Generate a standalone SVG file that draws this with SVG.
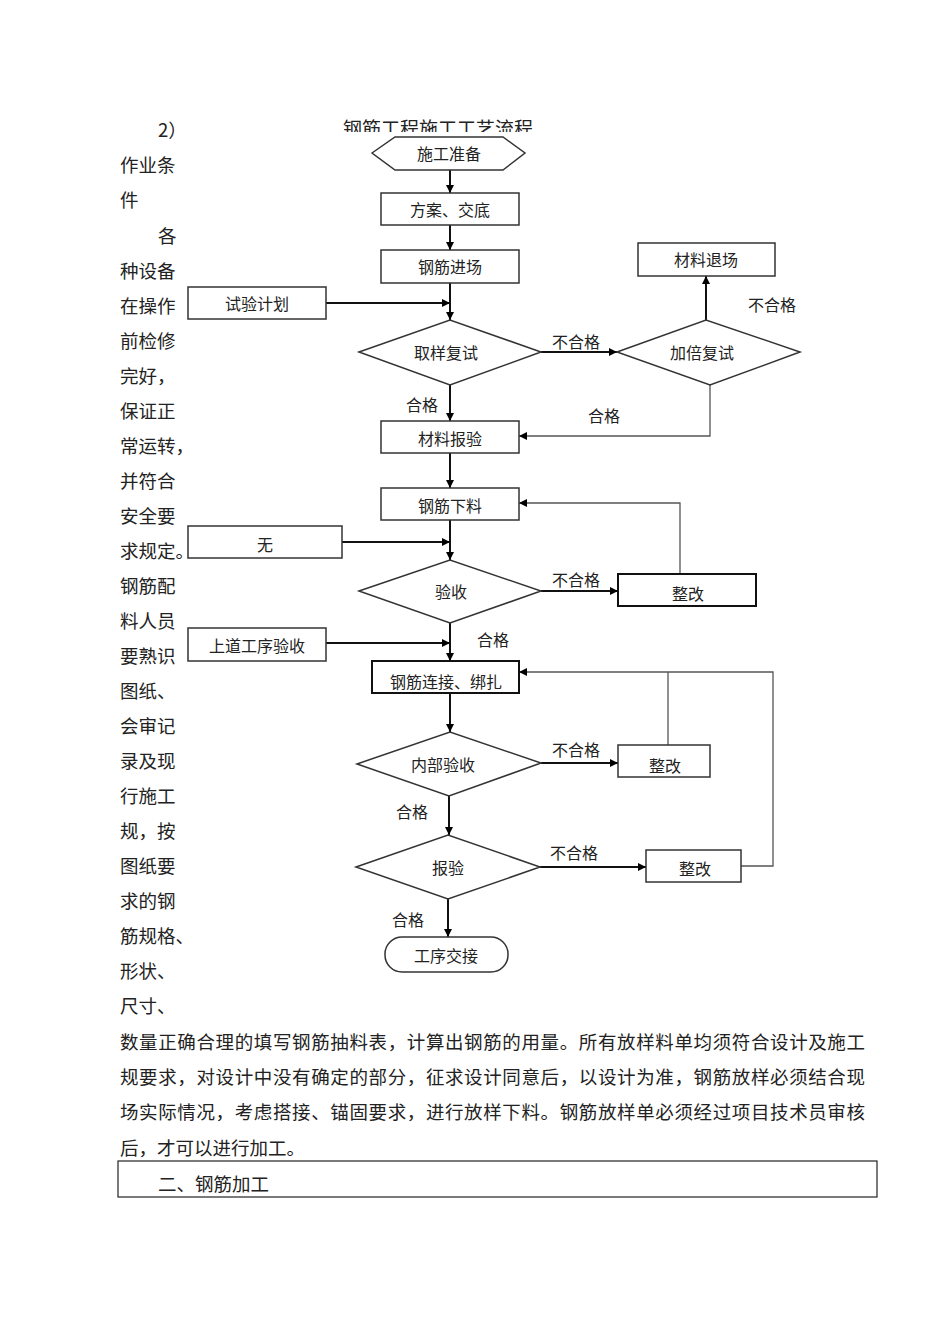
<svg xmlns="http://www.w3.org/2000/svg" width="950" height="1344" viewBox="0 0 950 1344">
<defs>
<marker id="ah" viewBox="0 0 10 10" refX="10" refY="5" markerWidth="5" markerHeight="5" markerUnits="userSpaceOnUse" orient="auto">
<path d="M0,0 L10,5 L0,10 z" fill="#000"/>
</marker>
<marker id="ah2" viewBox="0 0 10 10" refX="10" refY="5" markerWidth="10" markerHeight="8" markerUnits="userSpaceOnUse" orient="auto">
<path d="M0,0 L10,5 L0,10 z" fill="#000"/>
</marker>
<clipPath id="tclip"><rect x="300" y="100" width="300" height="32"/></clipPath>
</defs>
<style>
text{font-family:"Noto Sans CJK SC","Liberation Serif",serif;fill:#222;}
.n{font-size:16px;text-anchor:middle;dominant-baseline:central;}
.l{font-size:16px;}
.p{font-size:18.5px;}
.shape{fill:#fff;stroke:#333;stroke-width:1.5;}
.thick{stroke-width:2;stroke:#111;}
.c{fill:none;stroke:#111;stroke-width:2;}
.f{fill:none;stroke:#555;stroke-width:1.3;}
</style>
<rect width="950" height="1344" fill="#fff"/>

<text x="343" y="136" style="font-size:19px" clip-path="url(#tclip)">钢筋工程施工工艺流程</text>

<g id="connectors">
<line class="c" x1="450" y1="170" x2="450" y2="193" marker-end="url(#ah2)"/>
<line class="c" x1="450" y1="225" x2="450" y2="250" marker-end="url(#ah2)"/>
<line class="c" x1="450" y1="283" x2="450" y2="320" marker-end="url(#ah2)"/>
<line class="c" x1="326" y1="303" x2="450" y2="303" marker-end="url(#ah2)"/>
<line class="c" x1="541" y1="352" x2="617" y2="352" marker-end="url(#ah2)"/>
<line class="c" x1="706" y1="320" x2="706" y2="276" marker-end="url(#ah2)"/>
<polyline class="f" points="710,385 710,436 519,436" marker-end="url(#ah2)"/>
<line class="c" x1="450" y1="385" x2="450" y2="421" marker-end="url(#ah2)"/>
<line class="c" x1="450" y1="453" x2="450" y2="488" marker-end="url(#ah2)"/>
<polyline class="f" points="680,574 680,503 519,503" marker-end="url(#ah2)"/>
<line class="c" x1="450" y1="520" x2="450" y2="560" marker-end="url(#ah2)"/>
<line class="c" x1="342" y1="542" x2="450" y2="542" marker-end="url(#ah2)"/>
<line class="c" x1="541" y1="591" x2="618" y2="591" marker-end="url(#ah2)"/>
<line class="c" x1="450" y1="623" x2="450" y2="661" marker-end="url(#ah2)"/>
<line class="c" x1="326" y1="643" x2="450" y2="643" marker-end="url(#ah2)"/>
<line class="f" x1="668" y1="745" x2="668" y2="672"/>
<polyline class="f" points="741,866 773,866 773,672 519,672" marker-end="url(#ah2)"/>
<line class="c" x1="450" y1="693" x2="450" y2="732" marker-end="url(#ah2)"/>
<line class="c" x1="541" y1="763" x2="618" y2="763" marker-end="url(#ah2)"/>
<line class="c" x1="449" y1="796" x2="449" y2="835" marker-end="url(#ah2)"/>
<line class="c" x1="540" y1="867" x2="646" y2="867" marker-end="url(#ah2)"/>
<line class="c" x1="448" y1="899" x2="448" y2="937" marker-end="url(#ah2)"/>
</g>

<g id="labels">
<text class="l" x="552" y="348">不合格</text>
<text class="l" x="748" y="311">不合格</text>
<text class="l" x="588" y="422">合格</text>
<text class="l" x="406" y="411">合格</text>
<text class="l" x="552" y="586">不合格</text>
<text class="l" x="477" y="646">合格</text>
<text class="l" x="552" y="756">不合格</text>
<text class="l" x="396" y="818">合格</text>
<text class="l" x="550" y="859">不合格</text>
<text class="l" x="392" y="926">合格</text>
</g>

<g id="n1"><polygon class="shape" points="372,153 395,137 503,137 525,153 503,170 395,170"/><text class="n" x="449" y="153">施工准备</text></g>
<g id="n2"><rect class="shape" x="381" y="193" width="138" height="32"/><text class="n" x="450" y="209">方案、交底</text></g>
<g id="n3"><rect class="shape" x="381" y="250" width="138" height="33"/><text class="n" x="450" y="266">钢筋进场</text></g>
<g id="n4"><rect class="shape" x="188" y="287" width="138" height="32"/><text class="n" x="257" y="303">试验计划</text></g>
<g id="n5"><polygon class="shape" points="359,352 450,320 541,352 450,385"/><text class="n" x="446" y="352">取样复试</text></g>
<g id="n6"><polygon class="shape" points="617,352 706,320 800,352 710,385"/><text class="n" x="702" y="352">加倍复试</text></g>
<g id="n7"><rect class="shape" x="638" y="243" width="137" height="33"/><text class="n" x="706" y="259">材料退场</text></g>
<g id="n8"><rect class="shape" x="381" y="421" width="138" height="32"/><text class="n" x="450" y="438">材料报验</text></g>
<g id="n9"><rect class="shape" x="381" y="488" width="138" height="32"/><text class="n" x="450" y="505">钢筋下料</text></g>
<g id="n10"><rect class="shape" x="188" y="526" width="154" height="32"/><text class="n" x="265" y="544">无</text></g>
<g id="n11"><polygon class="shape" points="359,591 450,560 541,591 450,623"/><text class="n" x="451" y="591">验收</text></g>
<g id="n12"><rect class="shape thick" x="618" y="574" width="138" height="32"/><text class="n" x="688" y="593">整改</text></g>
<g id="n13"><rect class="shape" x="188" y="628" width="138" height="33"/><text class="n" x="257" y="645">上道工序验收</text></g>
<g id="n14"><rect class="shape thick" x="372" y="661" width="147" height="32"/><text class="n" x="446" y="681">钢筋连接、绑扎</text></g>
<g id="n15"><polygon class="shape" points="357,764 450,732 541,763 449,796"/><text class="n" x="443" y="764">内部验收</text></g>
<g id="n16"><rect class="shape" x="618" y="745" width="92" height="32"/><text class="n" x="665" y="765">整改</text></g>
<g id="n17"><polygon class="shape" points="356,867 448,835 540,867 448,899"/><text class="n" x="448" y="867">报验</text></g>
<g id="n18"><rect class="shape" x="646" y="850" width="95" height="32"/><text class="n" x="695" y="868">整改</text></g>
<g id="n19"><rect class="shape" x="385" y="937" width="123" height="35" rx="17" ry="17"/><text class="n" x="446" y="955">工序交接</text></g>

<g id="bodytext">
<text class="p" x="158" y="137">2）</text>
<text class="p" x="120" y="172">作业条</text>
<text class="p" x="120" y="207">件</text>
<text class="p" x="158" y="243">各</text>
<text class="p" x="120" y="278">种设备</text>
<text class="p" x="120" y="313">在操作</text>
<text class="p" x="120" y="348">前检修</text>
<text class="p" x="120" y="383">完好，</text>
<text class="p" x="120" y="418">保证正</text>
<text class="p" x="120" y="453">常运转，</text>
<text class="p" x="120" y="488">并符合</text>
<text class="p" x="120" y="523">安全要</text>
<text class="p" x="120" y="558">求规定。</text>
<text class="p" x="120" y="593">钢筋配</text>
<text class="p" x="120" y="628">料人员</text>
<text class="p" x="120" y="663">要熟识</text>
<text class="p" x="120" y="698">图纸、</text>
<text class="p" x="120" y="733">会审记</text>
<text class="p" x="120" y="768">录及现</text>
<text class="p" x="120" y="803">行施工</text>
<text class="p" x="120" y="838">规，按</text>
<text class="p" x="120" y="873">图纸要</text>
<text class="p" x="120" y="908">求的钢</text>
<text class="p" x="120" y="943">筋规格、</text>
<text class="p" x="120" y="978">形状、</text>
<text class="p" x="120" y="1013">尺寸、</text>
<text class="p" x="120" y="1049" textLength="745" lengthAdjust="spacing">数量正确合理的填写钢筋抽料表，计算出钢筋的用量。所有放样料单均须符合设计及施工</text>
<text class="p" x="120" y="1084" textLength="745" lengthAdjust="spacing">规要求，对设计中没有确定的部分，征求设计同意后，以设计为准，钢筋放样必须结合现</text>
<text class="p" x="120" y="1119" textLength="745" lengthAdjust="spacing">场实际情况，考虑搭接、锚固要求，进行放样下料。钢筋放样单必须经过项目技术员审核</text>
<text class="p" x="120" y="1155">后，才可以进行加工。</text>
<rect x="118" y="1161" width="759" height="36" fill="none" stroke="#222" stroke-width="1.2"/>
<text class="p" x="158" y="1191">二、钢筋加工</text>
</g>
</svg>
